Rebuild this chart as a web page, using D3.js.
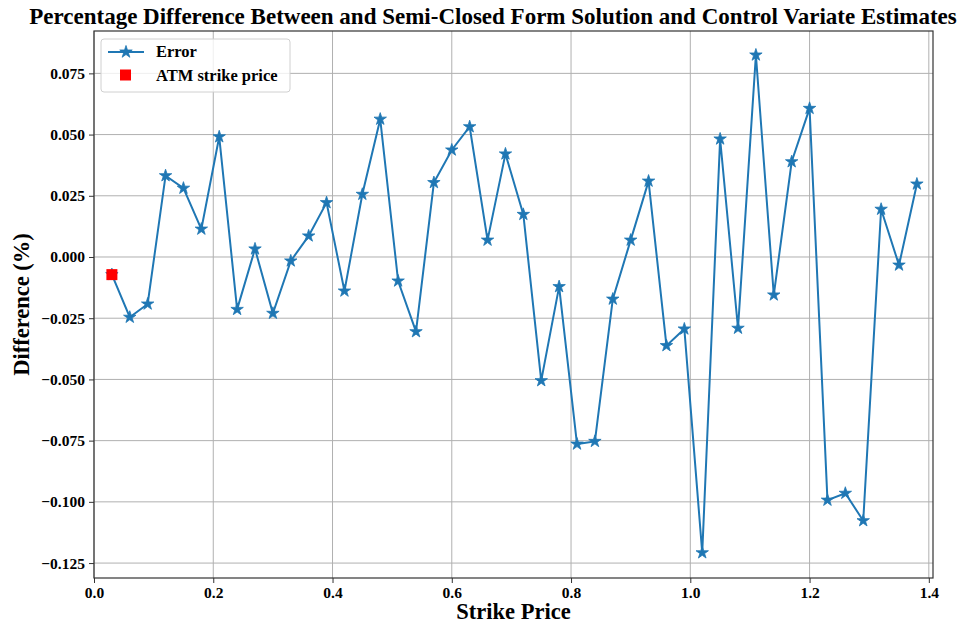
<!DOCTYPE html>
<html>
<head>
<meta charset="utf-8">
<script src="https://cdn.jsdelivr.net/npm/d3@7"></script>
<style>
  body { margin: 0; background: #fff; }
  svg text { font-family: "Liberation Serif", "Times New Roman", serif; font-weight: bold; }
</style>
</head>
<body>
<div class="graph"></div>
<script>
// Strike prices and percentage errors
const strikes = [0.03, 0.06, 0.09, 0.12, 0.15, 0.18, 0.21, 0.24, 0.27, 0.30,
  0.33, 0.36, 0.39, 0.42, 0.45, 0.48, 0.51, 0.54, 0.57, 0.60,
  0.63, 0.66, 0.69, 0.72, 0.75, 0.78, 0.81, 0.84, 0.87, 0.90,
  0.93, 0.96, 0.99, 1.02, 1.05, 1.08, 1.11, 1.14, 1.17, 1.20,
  1.23, 1.26, 1.29, 1.32, 1.35, 1.38];
const errors = [-0.0072, -0.0246, -0.0192, 0.0332, 0.0281, 0.0114, 0.0491, -0.0214, 0.0033, -0.0230,
  -0.0016, 0.0086, 0.0222, -0.0139, 0.0256, 0.0563, -0.0098, -0.0305, 0.0304, 0.0437,
  0.0532, 0.0069, 0.0421, 0.0174, -0.0505, -0.0121, -0.0764, -0.0753, -0.0172, 0.0069,
  0.0310, -0.0362, -0.0294, -0.1208, 0.0482, -0.0291, 0.0825, -0.0155, 0.0389, 0.0607,
  -0.0993, -0.0965, -0.1077, 0.0195, -0.0033, 0.0298];
const atmStrike = [0.03];
const atmError = [-0.0072];
const xTicks = [0, 0.2, 0.4, 0.6, 0.8, 1.0, 1.2, 1.4];
const yTicks = [-0.125, -0.100, -0.075, -0.050, -0.025, 0, 0.025, 0.050, 0.075];

const width = 971, height = 626;
const margin = {top: 31, right: 38, bottom: 48, left: 94};

const svg = d3.select('.graph').append('svg')
  .attr('width', width)
  .attr('height', height);

const x = d3.scaleLinear().domain([0, 1.407]).range([margin.left, width - margin.right]);
const y = d3.scaleLinear().domain([-0.1311, 0.0923]).range([height - margin.bottom, margin.top]);

const points = strikes.map((s, i) => ({x: s, y: errors[i]}));

// Grid
svg.append('g').selectAll('line').data(xTicks).enter().append('line')
  .attr('x1', d => x(d)).attr('x2', d => x(d))
  .attr('y1', margin.top).attr('y2', height - margin.bottom)
  .attr('stroke', '#b0b0b0').attr('stroke-width', 1);
svg.append('g').selectAll('line').data(yTicks).enter().append('line')
  .attr('x1', margin.left).attr('x2', width - margin.right)
  .attr('y1', d => y(d)).attr('y2', d => y(d))
  .attr('stroke', '#b0b0b0').attr('stroke-width', 1);

// Axes
const xAxis = svg.append('g')
  .attr('transform', `translate(0,${height - margin.bottom})`)
  .call(d3.axisBottom(x).tickValues(xTicks).tickFormat(d3.format('.1f')).tickSizeOuter(0).tickSize(5).tickPadding(4));
const yAxis = svg.append('g')
  .attr('transform', `translate(${margin.left},0)`)
  .call(d3.axisLeft(y).tickValues(yTicks).tickFormat(d3.format('.3f')).tickSizeOuter(0).tickSize(5).tickPadding(4));
[xAxis, yAxis].forEach(a => {
  a.select('.domain').remove();
  a.selectAll('line').attr('stroke', '#333');
  a.selectAll('text').attr('font-size', '15.5px').attr('fill', '#000')
    .style('font-family', '"Liberation Serif", serif').style('font-weight', 'bold');
});

// Frame
svg.append('rect')
  .attr('x', margin.left).attr('y', margin.top)
  .attr('width', width - margin.right - margin.left)
  .attr('height', height - margin.bottom - margin.top)
  .attr('fill', 'none').attr('stroke', '#333').attr('stroke-width', 1.2);

// Line
const line = d3.line().x(d => x(d.x)).y(d => y(d.y));
svg.append('path').datum(points)
  .attr('d', line)
  .attr('fill', 'none')
  .attr('stroke', '#1f77b4')
  .attr('stroke-width', 2);

const star = d3.symbol().type(d3.symbolStar).size(48);
svg.append('g').selectAll('path').data(points).enter().append('path')
  .attr('d', star)
  .attr('transform', d => `translate(${x(d.x)},${y(d.y)})`)
  .attr('fill', '#1f77b4').attr('stroke', '#1f77b4').attr('stroke-width', 0.8);

// ATM strike price marker
svg.append('g').selectAll('rect').data(atmStrike).enter().append('rect')
  .attr('x', (d) => x(d) - 5.5).attr('y', (d, i) => y(atmError[i]) - 5.5)
  .attr('width', 11).attr('height', 11)
  .attr('fill', 'red');

// Title and labels
svg.append('text')
  .attr('x', 493).attr('y', 24)
  .attr('text-anchor', 'middle')
  .attr('font-size', '23px')
  .text('Percentage Difference Between and Semi-Closed Form Solution and Control Variate Estimates');
svg.append('text')
  .attr('x', (margin.left + width - margin.right) / 2).attr('y', 619)
  .attr('text-anchor', 'middle')
  .attr('font-size', '22.5px')
  .text('Strike Price');
svg.append('text')
  .attr('transform', `translate(29,${(margin.top + height - margin.bottom) / 2}) rotate(-90)`)
  .attr('text-anchor', 'middle')
  .attr('font-size', '22.5px')
  .text('Difference (%)');

// Legend
const legend = svg.append('g').attr('transform', 'translate(101,39)');
legend.append('rect')
  .attr('width', 189).attr('height', 53).attr('rx', 3)
  .attr('fill', 'white').attr('fill-opacity', 0.8)
  .attr('stroke', '#d0d0d0');
legend.append('line')
  .attr('x1', 7).attr('x2', 43).attr('y1', 13).attr('y2', 13)
  .attr('stroke', '#1f77b4').attr('stroke-width', 2);
legend.append('path')
  .attr('d', star)
  .attr('transform', 'translate(25,13)')
  .attr('fill', '#1f77b4').attr('stroke', '#1f77b4').attr('stroke-width', 0.8);
legend.append('rect')
  .attr('x', 19).attr('y', 30.5).attr('width', 11).attr('height', 11)
  .attr('fill', 'red');
legend.selectAll('text.lbl').data(['Error', 'ATM strike price']).enter().append('text')
  .attr('class', 'lbl')
  .attr('x', 55).attr('y', (d, i) => 18 + i * 24)
  .attr('font-size', '16.5px')
  .text(d => d);
</script>
</body>
</html>
